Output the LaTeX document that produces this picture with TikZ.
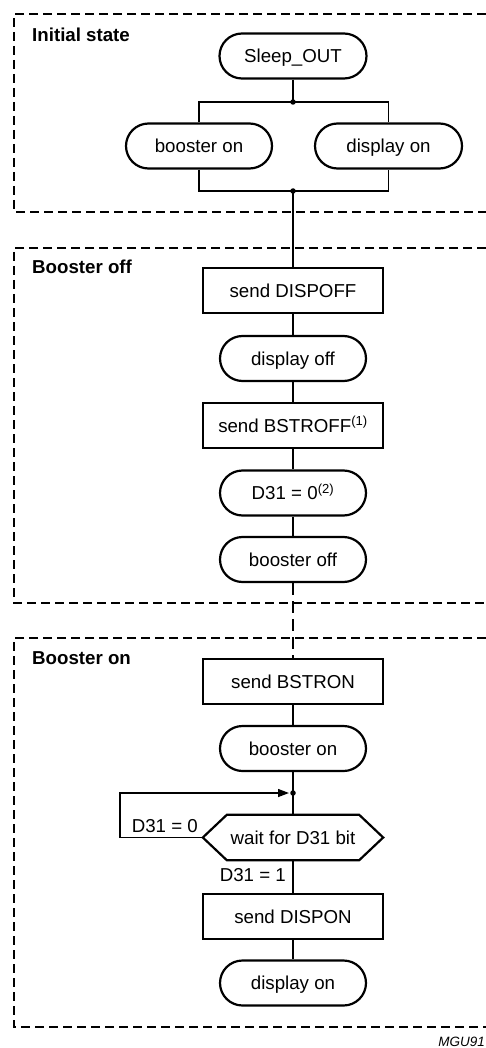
\documentclass[tikz,border=0pt]{standalone}
\usepackage{fontspec}
\setmainfont{Liberation Sans}
\usetikzlibrary{calc,arrows.meta}
\begin{document}
\begin{tikzpicture}[x=1pt,y=-1pt,
  every node/.style={font=\fontsize{18.7}{22}\selectfont},
  base/.style={draw, line width=2.2pt, inner sep=0pt, text height=13.4pt, text depth=0pt, minimum height=45pt},
  stadium/.style={base, rounded corners=22.5pt, minimum width=146pt},
  procbox/.style={base, rectangle, minimum width=180pt},
  waitbox/.style={inner sep=0pt, text height=13.4pt, text depth=0pt, minimum height=45pt, minimum width=180pt},
  conn/.style={line width=1.3pt},
  frame/.style={line width=1.8pt, dash pattern=on 9pt off 5pt},
  title/.style={font=\bfseries\fontsize{18.7}{22}\selectfont, anchor=base west, inner sep=0pt},
  lbl/.style={anchor=base east, inner sep=0pt},
  dot/.style={circle, fill, inner sep=0pt, minimum size=5.5pt}
]
\useasboundingbox (0,0) rectangle (486,1048);

% group frames
\draw[frame] (486,14) -- (14,14) -- (14,211.7) -- (486,211.7);
\draw[frame] (486,248) -- (14,248) -- (14,603) -- (486,603);
\draw[frame] (486,638) -- (14,638) -- (14,1026.7) -- (486,1026.7);

% titles
\node[title] (t1) at (32,41.7) {Initial state};
\node[title] (t2) at (32,273.7) {Booster off};
\node[title] (t3) at (32,664.7) {Booster on};

% initial state
\node[stadium, minimum width=147pt] (sleep) at (293,56) {Sleep\_OUT};
\node[stadium] (bon1) at (199,146) {booster on};
\node[stadium, minimum width=147pt] (don1) at (388.5,146) {display on};
\node[dot] (j1) at (293,102) {};
\node[dot] (j2) at (293,191) {};

% booster off
\node[procbox] (dispoff) at (293,290.5) {send DISPOFF};
\node[stadium] (dispoffr) at (293,358.5) {display off};
\node[procbox] (bstroff) at (293,425.5) {send BSTROFF\textsuperscript{(1)}};
\node[stadium] (d31) at (293,493) {D31 = 0\textsuperscript{(2)}};
\node[stadium] (boff) at (293,559.5) {booster off};

% booster on
\node[procbox] (bstron) at (293,681.5) {send BSTRON};
\node[stadium] (bon2) at (293,748.5) {booster on};
\node[dot] (j3) at (293,793) {};
\node[waitbox] (wait) at (293,837.5) {wait for D31 bit};
\node[procbox] (dispon) at (293,916.5) {send DISPON};
\node[stadium] (don2) at (293,983) {display on};
\coordinate (lc) at (120,837.5);

\draw[line width=2.2pt, line join=miter] (wait.west) -- ($(wait.north west)+(24,0)$) -- ($(wait.north east)+(-24,0)$) -- (wait.east) -- ($(wait.south east)+(-24,0)$) -- ($(wait.south west)+(24,0)$) -- cycle;

\node[lbl] (l0) at (198,832.7) {D31 = 0};
\node[lbl] (l1) at (286,881.7) {D31 = 1};
\node[lbl, font=\itshape\fontsize{13.5}{16}\selectfont] (mgu) at (485,1046.5) {MGU91};

% connectors
\draw[conn] (sleep) -- (j1.center);
\draw[conn] (bon1.north) |- (j1.center) -| (don1.north);
\draw[conn] (bon1.south) |- (j2.center) -| (don1.south);
\draw[conn] (j2.center) -- (dispoff);
\draw[conn] (dispoff) -- (dispoffr);
\draw[conn] (dispoffr) -- (bstroff);
\draw[conn] (bstroff) -- (d31);
\draw[conn] (d31) -- (boff);
\draw[conn, dash pattern=on 12pt off 6pt] (boff) -- (bstron);
\draw[conn] (bstron) -- (bon2);
\draw[conn] (bon2) -- (wait);
\draw[conn, -{Triangle[length=11pt,width=8pt]}, shorten >=4pt] (wait.west) -- (lc) |- (j3.center);
\draw[conn] (wait) -- (dispon);
\draw[conn] (dispon) -- (don2);
\end{tikzpicture}
\end{document}
